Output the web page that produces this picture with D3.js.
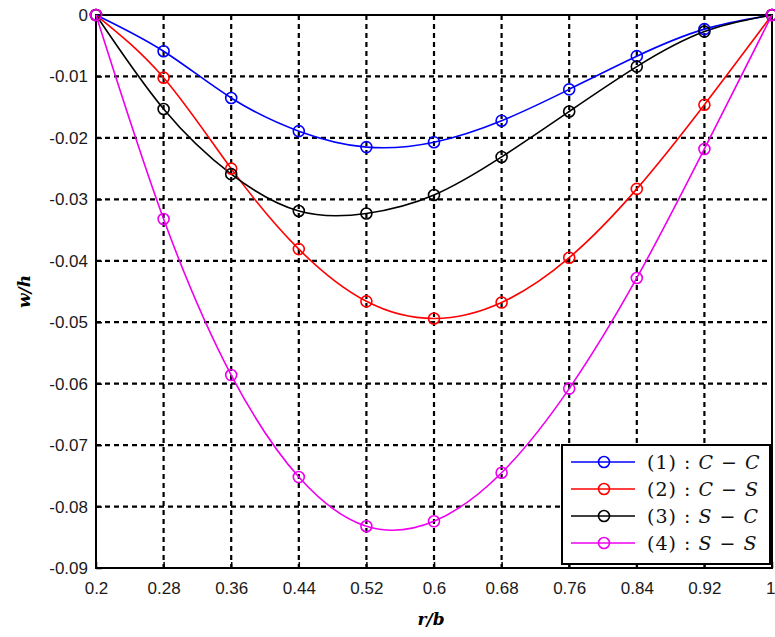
<!DOCTYPE html>
<html>
<head>
<meta charset="utf-8">
<script src="https://cdn.jsdelivr.net/npm/d3@7"></script>
<style>
  html, body { margin: 0; padding: 0; background: #fff; }
  svg { display: block; }
</style>
</head>
<body>
<svg id="chart" width="775" height="637"></svg>
<script>
const xValues = [0.2, 0.28, 0.36, 0.44, 0.52, 0.6, 0.68, 0.76, 0.84, 0.92, 1.0];
const seriesCC = [0, -0.0059, -0.0135, -0.0189, -0.0215, -0.0207, -0.0172, -0.0121, -0.0067, -0.0023, 0];
const seriesCS = [0, -0.0102, -0.0250, -0.0381, -0.0466, -0.0494, -0.0468, -0.0395, -0.0283, -0.0146, 0];
const seriesSC = [0, -0.0153, -0.0259, -0.0319, -0.0323, -0.0293, -0.0231, -0.0157, -0.0084, -0.0027, 0];
const seriesSS = [0, -0.0332, -0.0586, -0.0752, -0.0832, -0.0824, -0.0745, -0.0608, -0.0428, -0.0218, 0];
const seriesNames = ["(1)", "(2)", "(3)", "(4)"];
const seriesCodes = [["C", "C"], ["C", "S"], ["S", "C"], ["S", "S"]];
const seriesColors = ["#0000ff", "#ff0000", "#000000", "#ee00ee"];
const xTicks = [0.2, 0.28, 0.36, 0.44, 0.52, 0.6, 0.68, 0.76, 0.84, 0.92, 1];
const xTickLabels = ["0.2", "0.28", "0.36", "0.44", "0.52", "0.6", "0.68", "0.76", "0.84", "0.92", "1"];
const yTicks = [0, -0.01, -0.02, -0.03, -0.04, -0.05, -0.06, -0.07, -0.08, -0.09];
const yTickLabels = ["0", "-0.01", "-0.02", "-0.03", "-0.04", "-0.05", "-0.06", "-0.07", "-0.08", "-0.09"];
const xLabel = "r/b";
const yLabel = "w/h";

const allSeries = [seriesCC, seriesCS, seriesSC, seriesSS];

const svg = d3.select("#chart");
const L = 96, R = 772, T = 15, B = 568;

const x = d3.scaleLinear().domain([0.2, 1]).range([L, R]);
const y = d3.scaleLinear().domain([-0.09, 0]).range([B, T]);

// grid
const grid = svg.append("g");
grid.selectAll("line.gx").data(xTicks.slice(1, -1)).enter().append("line")
  .attr("x1", d => x(d)).attr("x2", d => x(d)).attr("y1", T).attr("y2", B)
  .attr("stroke", "#000").attr("stroke-width", 2.2).attr("stroke-dasharray", "5,4");
grid.selectAll("line.gy").data(yTicks.slice(1, -1)).enter().append("line")
  .attr("y1", d => y(d)).attr("y2", d => y(d)).attr("x1", L).attr("x2", R)
  .attr("stroke", "#000").attr("stroke-width", 2.2).attr("stroke-dasharray", "5,4");

// axes
const xAxis = d3.axisBottom(x).tickValues(xTicks).tickFormat((d, i) => xTickLabels[i]).tickSizeInner(-6).tickSizeOuter(0).tickPadding(14);
const yAxis = d3.axisLeft(y).tickValues(yTicks).tickFormat((d, i) => yTickLabels[i]).tickSizeInner(-6).tickSizeOuter(0).tickPadding(8);
const gx = svg.append("g").attr("transform", `translate(0,${B})`).call(xAxis);
const gy = svg.append("g").attr("transform", `translate(${L},0)`).call(yAxis);
[gx, gy].forEach(g => {
  g.select(".domain").remove();
  g.selectAll(".tick line").attr("stroke", "#000").attr("stroke-width", 1.5);
  g.selectAll(".tick text").attr("fill", "#1a1a1a").style("font-family", "'Liberation Sans', Arial, sans-serif").style("font-size", "17px");
});
gx.selectAll(".tick text").filter((d, i) => i === xTicks.length - 1).attr("text-anchor", "end").attr("dx", "3");

// box
svg.append("rect").attr("x", L).attr("y", T).attr("width", R - L).attr("height", B - T)
  .attr("fill", "none").attr("stroke", "#000").attr("stroke-width", 2);

// series
const line = d3.line().x((d, i) => x(xValues[i])).y(d => y(d)).curve(d3.curveNatural);
allSeries.forEach((s, k) => {
  svg.append("path").datum(s).attr("d", line).attr("fill", "none")
    .attr("stroke", seriesColors[k]).attr("stroke-width", 1.6);
});
allSeries.forEach((s, k) => {
  svg.append("g").selectAll("circle").data(s).enter().append("circle")
    .attr("cx", (d, i) => x(xValues[i])).attr("cy", d => y(d)).attr("r", 5.5)
    .attr("fill", "none").attr("stroke", seriesColors[k]).attr("stroke-width", 1.6);
});

// axis labels
svg.append("text").attr("x", (L + R) / 2 - 3).attr("y", 625).attr("text-anchor", "middle")
  .style("font-family", "'DejaVu Serif', 'Liberation Serif', serif").style("font-style", "italic").style("font-weight", "bold").style("font-size", "17px")
  .text(xLabel);
svg.append("text").attr("transform", `translate(30,${(T + B) / 2}) rotate(-90)`).attr("text-anchor", "middle")
  .style("font-family", "'DejaVu Serif', 'Liberation Serif', serif").style("font-style", "italic").style("font-weight", "bold").style("font-size", "17px")
  .text(yLabel);

// legend
const lg = svg.append("g");
const lx = 562, ly = 445, lw = 208, lh = 119;
lg.append("rect").attr("x", lx).attr("y", ly).attr("width", lw).attr("height", lh)
  .attr("fill", "#fff").attr("stroke", "#000").attr("stroke-width", 2);
seriesNames.forEach((nm, k) => {
  const yy = 462 + k * 27;
  lg.append("line").attr("x1", 571).attr("x2", 635).attr("y1", yy).attr("y2", yy)
    .attr("stroke", seriesColors[k]).attr("stroke-width", 1.6);
  lg.append("circle").attr("cx", 604).attr("cy", yy).attr("r", 5.5)
    .attr("fill", "none").attr("stroke", seriesColors[k]).attr("stroke-width", 1.6);
  const t = lg.append("text").attr("x", 647).attr("y", yy + 7).attr("xml:space", "preserve")
    .style("font-family", "'DejaVu Serif', 'Liberation Serif', serif").style("font-size", "19px")
    .style("letter-spacing", "1px").style("white-space", "pre").attr("fill", "#111");
  t.append("tspan").text(nm + " : ");
  t.append("tspan").style("font-style", "italic").text(seriesCodes[k][0]);
  t.append("tspan").text(" \u2212 ");
  t.append("tspan").style("font-style", "italic").text(seriesCodes[k][1]);
});
</script>
</body>
</html>
